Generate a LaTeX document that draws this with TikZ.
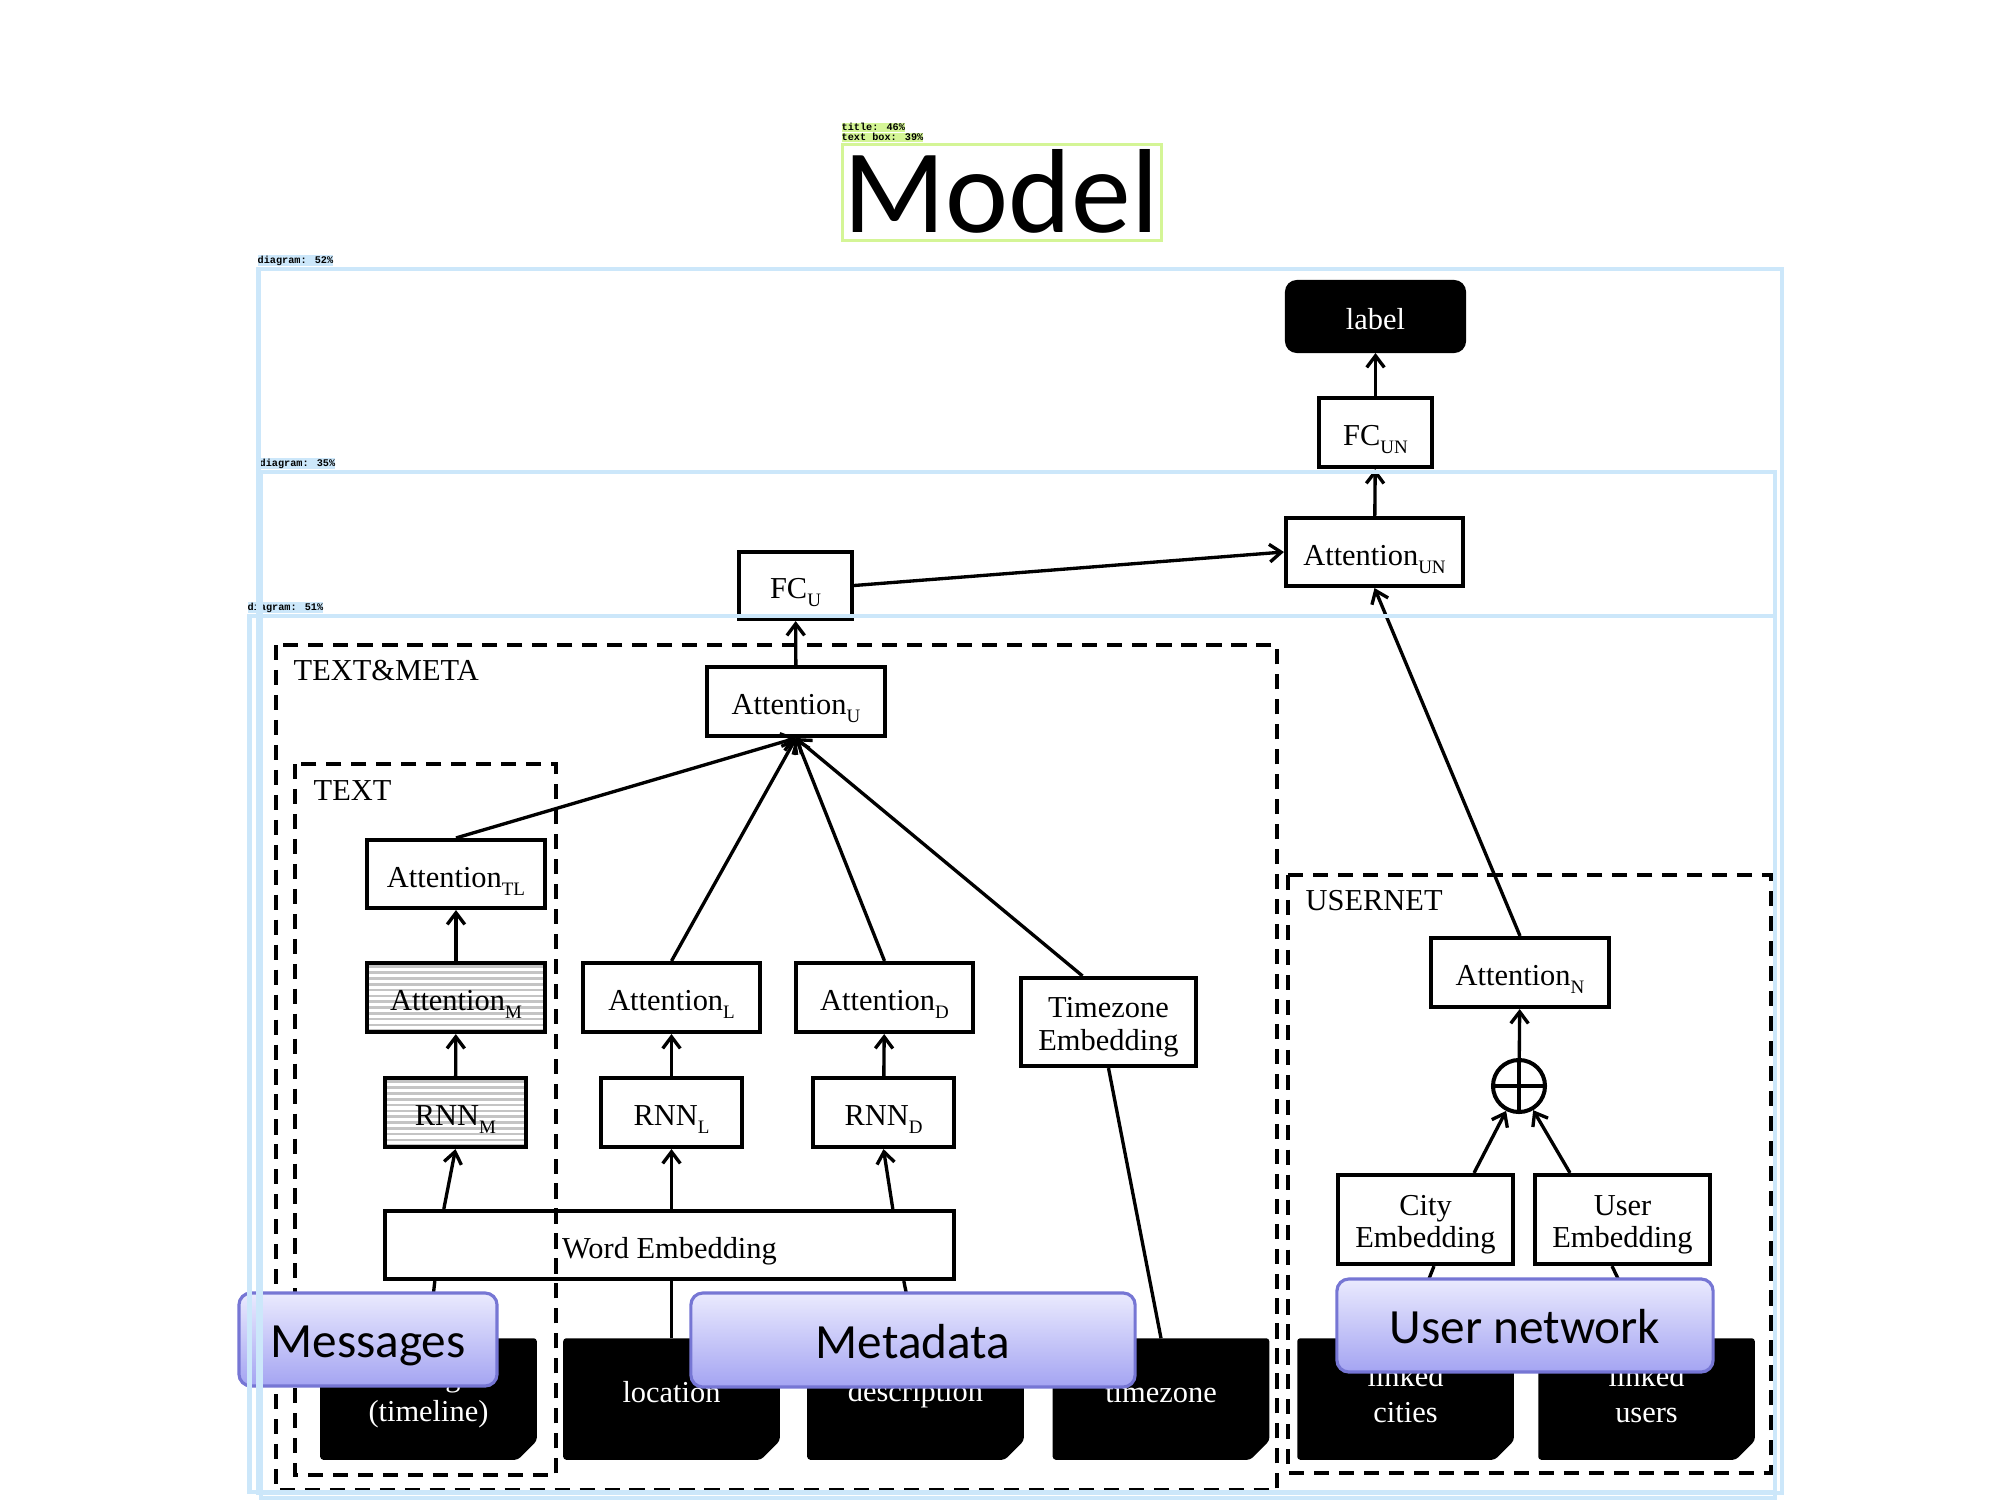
\documentclass[tikz,border=0pt]{standalone}
\usepackage{fontspec}
\setmainfont{Liberation Serif}
\newfontfamily\calibfont{Carlito}
\newfontfamily\monofont{Liberation Mono}
\usetikzlibrary{arrows.meta,calc}
\definecolor{ovblue}{RGB}{204,231,250}
\definecolor{ovgreen}{RGB}{212,245,150}
\definecolor{tagtop}{RGB}{234,234,254}
\definecolor{tagbot}{RGB}{164,164,242}
\definecolor{tagline}{RGB}{118,118,212}
\definecolor{hatchgray}{RGB}{196,196,196}
\newcommand\lowsub[1]{\raisebox{-2.3pt}{\fontsize{5.4pt}{5.4pt}\selectfont #1}}
\newcommand\blk[1]{\fill[rounded corners=0.03cm] (#1.north west) -- (#1.north east) -- ($(#1.south east)+(0,-19)$) -- ($(#1.south east)+(-19,0)$) -- (#1.south west) -- cycle;}
\begin{document}
\begin{tikzpicture}[x=0.01cm,y=-0.01cm,
  font=\fontsize{8.65pt}{10pt}\selectfont,
  wbox/.style n args={2}{draw,line width=1.15pt,fill=white,minimum width=#1cm,minimum height=#2cm,inner sep=0pt,text height=0.74em,text depth=0pt},
  hbox/.style n args={2}{wbox={#1}{#2},path picture={\foreach \k in {0,...,11}{\fill[hatchgray] ([yshift={-0.025cm-\k*0.058cm}]path picture bounding box.north west) rectangle ([yshift={-0.052cm-\k*0.058cm}]path picture bounding box.north east);}}},
  dbox/.style={minimum width=2.15cm,minimum height=1.2cm,inner sep=0pt},
  wtxt/.style={text=white,anchor=base,inner sep=0pt},
  btxt/.style={anchor=base,inner sep=0pt},
  grp/.style={draw,line width=1pt,dash pattern=on 4.3pt off 2.8pt},
  arr/.style={line width=0.95pt,-{Straight Barb[length=3.3pt,width=5pt]}},
  ln/.style={line width=0.95pt},
  tagbox/.style={draw=tagline,line width=0.9pt,rounded corners=0.12cm,top color=tagtop,bottom color=tagbot,font=\calibfont\fontsize{14pt}{14pt}\selectfont,text height=1.05em,text depth=0pt,inner sep=0pt},
  ovbox/.style={draw=ovblue,line width=1.15pt},
  ovtag/.style={fill=ovblue,inner xsep=0pt,inner ysep=0.25pt,font=\monofont\bfseries\fontsize{2.9pt}{3pt}\selectfont,anchor=south west,text height=2.1pt,text depth=0.6pt},
  gntag/.style={ovtag,fill=ovgreen,inner ysep=0pt}]
\useasboundingbox (0,0) rectangle (2000,1500);
\fill[white] (0,0) rectangle (2000,1500);

% top part
\node[wbox={1.77}{0.69},fill=black,text=white,rounded corners=0.1cm] (lbl) at (1375.5,316.5) {label};
\node[wbox={1.13}{0.69}] (fcun) at (1375.5,432.5) {FC\lowsub{UN}};
\node[wbox={1.77}{0.68}] (attun) at (1374.5,552) {Attention\lowsub{UN}};
\node[wbox={1.13}{0.67}] (fcu) at (795.5,585.5) {FC\lowsub{U}};
\node[wbox={1.78}{0.69}] (attu) at (796,701.5) {Attention\lowsub{U}};

% text & meta
\node[wbox={1.78}{0.68}] (atttl) at (456,874) {Attention\lowsub{TL}};
\node[hbox={1.78}{0.69}] (attm) at (456,997.5) {Attention\lowsub{M}};
\node[wbox={1.77}{0.69}] (attl) at (671.5,997.5) {Attention\lowsub{L}};
\node[wbox={1.77}{0.69}] (attd) at (884.5,997.5) {Attention\lowsub{D}};
\node[wbox={1.75}{0.88}] (tz) at (1108.5,1022) {};
\node[btxt] (tz1) at (1108.5,1017) {Timezone};
\node[btxt] (tz2) at (1108.5,1050) {Embedding};
\node[hbox={1.41}{0.69}] (rnnm) at (455.5,1112.5) {RNN\lowsub{M}};
\node[wbox={1.41}{0.69}] (rnnl) at (671.5,1112.5) {RNN\lowsub{L}};
\node[wbox={1.41}{0.69}] (rnnd) at (883.5,1112.5) {RNN\lowsub{D}};
\node[wbox={5.69}{0.68}] (we) at (669.5,1245) {Word Embedding};

% usernet
\node[wbox={1.78}{0.69}] (attn) at (1520,972.5) {Attention\lowsub{N}};
\node[circle,draw,line width=1.15pt,fill=white,minimum size=0.52cm,inner sep=0pt] (plus) at (1519,1086) {};
\draw[line width=1.15pt] (plus.north) -- (plus.south) (plus.west) -- (plus.east);
\node[wbox={1.75}{0.89}] (city) at (1425.5,1219.5) {};
\node[btxt] (city1) at (1425.5,1215) {City};
\node[btxt] (city2) at (1425.5,1247) {Embedding};
\node[wbox={1.75}{0.89}] (user) at (1622.5,1219.5) {};
\node[btxt] (user1) at (1622.5,1215) {User};
\node[btxt] (user2) at (1622.5,1247) {Embedding};

% black input boxes
\node[dbox] (msg) at (428.5,1399) {};
\node[dbox] (loc) at (671.5,1399) {};
\node[dbox] (desc) at (915.5,1399) {};
\node[dbox] (tzb) at (1161,1399) {};
\node[dbox] (cities) at (1405.5,1399) {};
\node[dbox] (users) at (1646.5,1399) {};
\blk{msg}\blk{loc}\blk{desc}\blk{tzb}\blk{cities}\blk{users}
\node[wtxt] (msg1) at (428.5,1386) {messages};
\node[wtxt] (msg2) at (428.5,1421) {(timeline)};
\node[wtxt] (loc1) at (671.5,1402) {location};
\node[wtxt] (desc1) at (915.5,1401) {description};
\node[wtxt] (tzb1) at (1161,1402) {timezone};
\node[wtxt] (cit1) at (1405.5,1386) {linked};
\node[wtxt] (cit2) at (1405.5,1422) {cities};
\node[wtxt] (usr1) at (1646.5,1386) {linked};
\node[wtxt] (usr2) at (1646.5,1422) {users};

% connectors
\draw[arr] (fcun) -- (lbl);
\draw[arr] (attun) -- (fcun);
\draw[arr] (fcu.east) -- (attun.west);
\draw[arr] (attu) -- (fcu);
\draw[arr] (atttl.north) -- (attu.south);
\draw[arr] (attl.north) -- (attu.south);
\draw[arr] (attd.north) -- (attu.south);
\draw[arr] ($(tz.north west)!0.355!(tz.north east)$) -- (attu.south);
\draw[arr] (attm) -- (atttl);
\draw[arr] (rnnm) -- (attm);
\draw[arr] ($(we.north west)+(61,0)$) -- (rnnm.south);
\draw[arr] (rnnl) -- (attl);
\draw[arr] (we.north -| rnnl) -- (rnnl.south);
\draw[arr] (rnnd) -- (attd);
\draw[arr] ($(we.north west)+(510,0)$) -- (rnnd.south);
\draw[ln] (msg.north) -- ($(we.south west)+(52,0)$);
\draw[ln] (loc.north) -- (loc.north |- we.south);
\draw[ln] (desc.north) -- ($(we.south west)+(521,0)$);
\draw[ln] (tzb.north) -- (tz.south);
\draw[ln] (cities.north) -- ($(city.south)+(8.5,0)$);
\draw[ln] (users.north) -- ($(user.south)+(-10.5,0)$);
\draw[arr] ($(city.north)+(48.5,0)$) -- (plus);
\draw[arr] ($(user.north)+(-52.5,0)$) -- (plus);
\draw[arr] (plus) -- (attn);
\draw[arr] (attn.north) -- (attun.south);

% dashed groups
\draw[grp] (276,645) rectangle (1277,1490);
\draw[grp] (295,764) rectangle (556,1475);
\draw[grp] (1288,875) rectangle (1771,1473);
\node[btxt,anchor=base west] (ltm) at (293,680) {TEXT\&META};
\node[btxt,anchor=base west] (ltx) at (313,800) {TEXT};
\node[btxt,anchor=base west] (lun) at (1305,910) {USERNET};

% tags
\node[tagbox,minimum width=2.58cm,minimum height=0.93cm] (tgm) at (368,1339.5) {Messages};
\node[tagbox,minimum width=4.44cm,minimum height=0.94cm] (tgd) at (913,1340) {Metadata};
\node[tagbox,minimum width=3.76cm,minimum height=0.93cm] (tgu) at (1525,1325.5) {User network};

% title
\node[font=\calibfont\fontsize{34pt}{34pt}\selectfont,anchor=base,inner sep=0pt] (ttl) at (1001,232) {Model};
\draw[ovgreen,line width=0.95pt] (842.5,144.5) rectangle (1161.5,240.5);
\node[gntag] (tg1) at (841,133) {title: 46\%};
\node[gntag] (tg2) at (841,143) {text box: 39\%};

% overlays
\draw[ovbox] (249.5,616) rectangle (1775,1492);
\node[ovtag] (d51) at (247,614) {diagram: 51\%};
\draw[ovbox] (261,472) rectangle (1775,1498);
\node[ovtag] (d35) at (259,470) {diagram: 35\%};
\draw[ovbox] (258.5,269) rectangle (1782,1493);
\node[ovtag] (d52) at (257,267) {diagram: 52\%};
\end{tikzpicture}
\end{document}
